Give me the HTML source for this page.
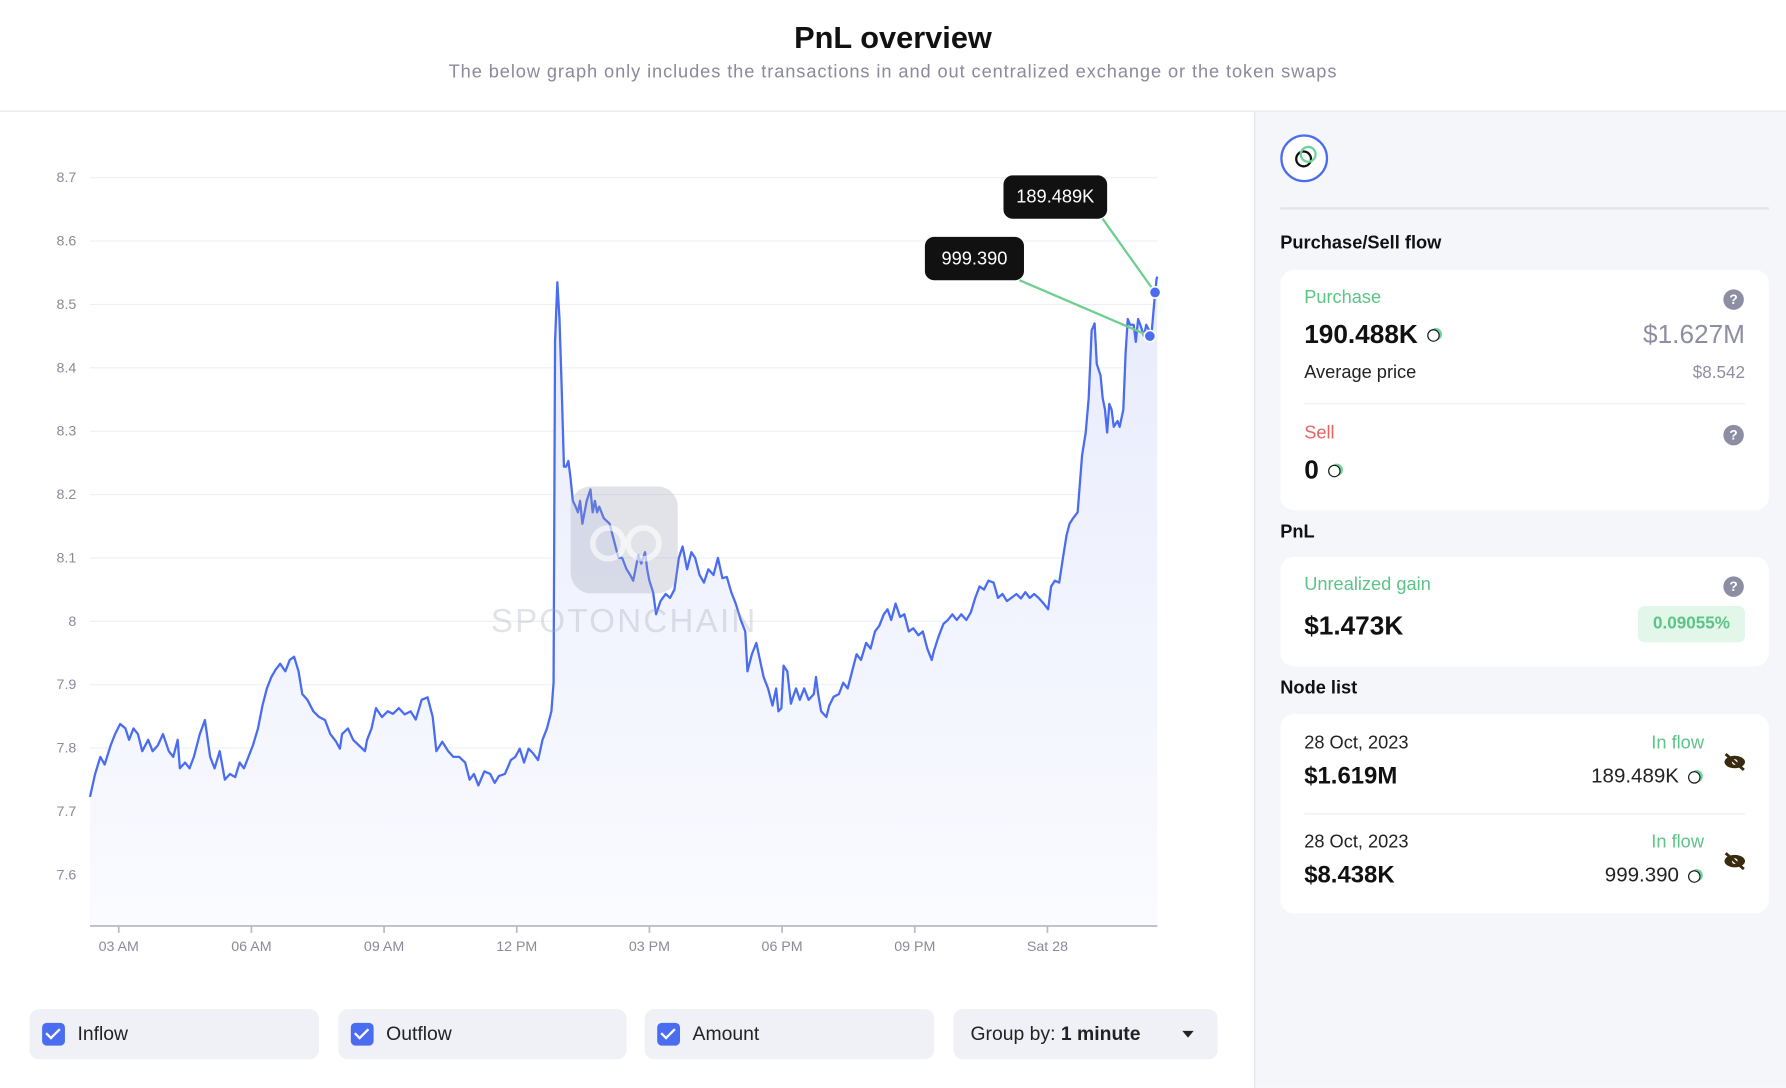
<!DOCTYPE html>
<html><head><meta charset="utf-8">
<style>
html,body{margin:0;padding:0;background:#fff;overflow:hidden;}
body{width:1786px;height:1088px;font-family:"Liberation Sans",sans-serif;}
#wrap{position:absolute;left:0;top:0;width:1568px;height:955px;transform:scale(1.139031);transform-origin:0 0;}
.abs{position:absolute;}
.title{left:0;width:1568px;text-align:center;}
.panel{left:1101px;top:98px;width:467px;height:857px;background:#f5f6fa;border-left:1px solid #e3e4ea;}
.card{position:absolute;left:22px;width:429px;background:#fff;border-radius:12px;}
.sec{position:absolute;left:22px;font-weight:bold;font-size:16px;color:#111;}
.q{position:absolute;width:18px;height:18px;border-radius:50%;background:#8d8ea3;color:#fff;font-size:12px;font-weight:bold;text-align:center;line-height:18px;}
.ctl{position:absolute;top:886px;height:44px;background:#f0f1f6;border-radius:8px;font-size:17px;color:#222;}
.cb{position:absolute;left:11px;top:12px;width:20px;height:20px;border-radius:4px;background:#4a6cf0;}
.cb::after{content:"";position:absolute;left:6px;top:2px;width:5px;height:10px;border:solid #fff;border-width:0 2px 2px 0;transform:rotate(45deg);}
.ctl span.l{position:absolute;left:42px;top:12px;}
.tok{display:inline-block;width:9px;height:9px;border:1.5px solid #111;border-radius:50%;box-shadow:2px -1px 0 0 #6fd49a;vertical-align:middle;margin-left:8px;}
</style></head>
<body>
<div id="wrap">
  <div class="abs title" style="top:18px;font-size:27px;font-weight:bold;color:#111;">PnL overview</div>
  <div class="abs title" style="top:55px;font-size:16px;letter-spacing:0.8px;color:#8a8a99;">The below graph only includes the transactions in and out centralized exchange or the token swaps</div>
  <div class="abs" style="left:0;top:97px;width:1568px;height:1px;background:#e3e4ea;"></div>

  <svg id="chart" class="abs" style="left:0;top:98px;" width="1100" height="760">
    <defs><linearGradient id="ag" x1="0" y1="0" x2="0" y2="1"><stop offset="0" stop-color="#e8ebfc"/><stop offset="1" stop-color="#fafbff"/></linearGradient></defs>
  </svg>

  <div class="abs" style="left:501px;top:427px;width:94px;height:94px;border-radius:18px;background:rgba(150,155,175,0.28);">
    <div class="abs" style="left:17px;top:34px;width:22px;height:22px;border:5px solid rgba(255,255,255,0.6);border-radius:50%;"></div>
    <div class="abs" style="left:48px;top:34px;width:22px;height:22px;border:5px solid rgba(255,255,255,0.6);border-radius:50%;"></div>
  </div>
  <div class="abs" style="left:418px;top:530px;width:260px;text-align:center;font-size:29px;letter-spacing:2px;color:rgba(160,163,180,0.3);">SPOTONCHAIN</div>

  <div class="ctl" style="left:26px;width:254px;"><div class="cb"></div><span class="l">Inflow</span></div>
  <div class="ctl" style="left:297px;width:253px;"><div class="cb"></div><span class="l">Outflow</span></div>
  <div class="ctl" style="left:566px;width:254px;"><div class="cb"></div><span class="l">Amount</span></div>
  <div class="ctl" style="left:837px;width:232px;"><span class="abs" style="left:15px;top:12px;">Group by: <b>1 minute</b></span>
    <div class="abs" style="left:201px;top:19px;width:0;height:0;border-left:5px solid transparent;border-right:5px solid transparent;border-top:6px solid #222;"></div></div>

  <div class="abs panel">
    <div class="abs" style="left:22px;top:20px;width:38px;height:38px;border:2.5px solid #4a6cf0;border-radius:50%;background:#fff;">
      <div class="abs" style="left:11px;top:12px;width:11px;height:11px;border:2px solid #111;border-radius:50%;"></div>
      <div class="abs" style="left:15px;top:8px;width:11px;height:11px;border:2px solid #6fd49a;border-radius:50%;"></div>
    </div>
    <div class="abs" style="left:22px;top:84px;width:429px;height:2px;background:#e3e4ea;"></div>
    <div class="sec" style="top:107px;">Purchase/Sell flow</div>
    <div class="card" style="top:139px;height:211px;">
      <div class="abs" style="left:21px;top:16px;font-size:16px;color:#5cc487;">Purchase</div>
      <div class="q" style="left:389px;top:17px;">?</div>
      <div class="abs" style="left:21px;top:43px;font-size:23px;font-weight:bold;color:#111;">190.488K<span class="tok"></span></div>
      <div class="abs" style="right:21px;top:43px;font-size:23px;color:#8d8ea3;">$1.627M</div>
      <div class="abs" style="left:21px;top:82px;font-size:16px;color:#222;">Average price</div>
      <div class="abs" style="right:21px;top:82px;font-size:15px;color:#8d8ea3;">$8.542</div>
      <div class="abs" style="left:21px;top:117px;width:387px;height:1px;background:#eeeef3;"></div>
      <div class="abs" style="left:21px;top:135px;font-size:16px;color:#e56565;">Sell</div>
      <div class="q" style="left:389px;top:136px;">?</div>
      <div class="abs" style="left:21px;top:162px;font-size:23px;font-weight:bold;color:#111;">0<span class="tok"></span></div>
    </div>
    <div class="sec" style="top:361px;">PnL</div>
    <div class="card" style="top:391px;height:96px;">
      <div class="abs" style="left:21px;top:16px;font-size:16px;color:#5cc487;">Unrealized gain</div>
      <div class="q" style="left:389px;top:17px;">?</div>
      <div class="abs" style="left:21px;top:47px;font-size:23px;font-weight:bold;color:#111;">$1.473K</div>
      <div class="abs" style="left:314px;top:43px;width:94px;height:32px;border-radius:6px;background:#e3f6ea;color:#5cc487;font-weight:bold;font-size:15px;text-align:center;line-height:32px;">0.09055%</div>
    </div>
    <div class="sec" style="top:498px;">Node list</div>
    <div class="card" style="top:529px;height:175px;">
      <div class="abs" style="left:21px;top:17px;font-size:16px;color:#222;">28 Oct, 2023</div>
      <div class="abs" style="right:57px;top:17px;font-size:16px;color:#5cc487;">In flow</div>
      <div class="abs" style="left:21px;top:43px;font-size:21px;font-weight:bold;color:#111;">$1.619M</div>
      <div class="abs" style="right:60px;top:44px;font-size:18px;color:#222;">189.489K<span class="tok"></span></div>
      <svg class="abs" style="left:388px;top:33px;" width="22" height="18" viewBox="0 0 22 18"><ellipse cx="11" cy="9" rx="9" ry="5.5" fill="#3a2a10"/><circle cx="11" cy="9" r="2.5" fill="#fff"/><line x1="3" y1="2" x2="19" y2="16" stroke="#3a2a10" stroke-width="2.5"/></svg>
      <div class="abs" style="left:21px;top:87px;width:387px;height:1px;background:#eeeef3;"></div>
      <div class="abs" style="left:21px;top:104px;font-size:16px;color:#222;">28 Oct, 2023</div>
      <div class="abs" style="right:57px;top:104px;font-size:16px;color:#5cc487;">In flow</div>
      <div class="abs" style="left:21px;top:130px;font-size:21px;font-weight:bold;color:#111;">$8.438K</div>
      <div class="abs" style="right:60px;top:131px;font-size:18px;color:#222;">999.390<span class="tok"></span></div>
      <svg class="abs" style="left:388px;top:120px;" width="22" height="18" viewBox="0 0 22 18"><ellipse cx="11" cy="9" rx="9" ry="5.5" fill="#3a2a10"/><circle cx="11" cy="9" r="2.5" fill="#fff"/><line x1="3" y1="2" x2="19" y2="16" stroke="#3a2a10" stroke-width="2.5"/></svg>
    </div>
  </div>
</div>
<script>
const yTicks = [7.6, 7.7, 7.8, 7.9, 8, 8.1, 8.2, 8.3, 8.4, 8.5, 8.6, 8.7];
const xTickMinutes = [180, 360, 540, 720, 900, 1080, 1260, 1440];
const xTickLabels = ["03 AM", "06 AM", "09 AM", "12 PM", "03 PM", "06 PM", "09 PM", "Sat 28"];
const times = [141,148,155,161,169,175,182,189,194,200,206,212,220,226,233,240,248,254,260,263,270,276,282,290,297,304,310,317,324,331,338,344,350,356,362,369,375,381,387,393,399,406,412,418,424,429,436,444,452,460,467,475,480,483,491,498,506,514,517,523,529,537,545,552,560,568,576,583,591,599,606,611,619,627,634,642,650,656,662,668,676,684,690,696,704,712,718,724,730,736,742,749,755,761,767,770,772,775,778,781,784,787,790,793,796,800,803,806,809,812,815,820,823,826,829,832,838,846,854,858,863,869,874,878,885,889,894,897,900,905,909,915,922,928,934,940,945,951,957,962,968,974,980,987,993,999,1005,1011,1017,1024,1030,1033,1039,1045,1050,1055,1061,1067,1072,1075,1079,1082,1087,1092,1095,1099,1104,1110,1116,1123,1126,1129,1133,1140,1144,1150,1157,1163,1169,1175,1181,1187,1194,1200,1206,1212,1218,1223,1228,1234,1240,1246,1252,1258,1265,1271,1277,1283,1286,1292,1299,1305,1311,1317,1323,1330,1336,1342,1348,1354,1360,1367,1373,1379,1385,1391,1398,1404,1410,1416,1422,1428,1435,1441,1445,1450,1456,1461,1466,1470,1475,1481,1487,1492,1496,1500,1504,1507,1512,1515,1518,1521,1524,1527,1530,1535,1538,1543,1546,1549,1552,1557,1560,1563,1566,1571,1574,1578,1581,1585,1588,1589];
const prices = [7.723,7.759,7.786,7.774,7.804,7.822,7.838,7.831,7.813,7.831,7.822,7.795,7.813,7.795,7.804,7.822,7.795,7.786,7.813,7.768,7.777,7.768,7.786,7.822,7.844,7.786,7.768,7.795,7.750,7.759,7.754,7.777,7.768,7.786,7.804,7.831,7.867,7.894,7.912,7.924,7.933,7.921,7.939,7.944,7.921,7.885,7.876,7.858,7.849,7.844,7.822,7.810,7.799,7.822,7.831,7.813,7.804,7.795,7.813,7.831,7.863,7.849,7.858,7.854,7.863,7.853,7.858,7.845,7.876,7.880,7.849,7.795,7.810,7.795,7.786,7.786,7.777,7.750,7.759,7.741,7.763,7.759,7.745,7.756,7.759,7.781,7.786,7.799,7.777,7.799,7.792,7.781,7.813,7.831,7.858,7.903,8.441,8.535,8.477,8.370,8.244,8.244,8.253,8.226,8.190,8.181,8.172,8.190,8.154,8.172,8.190,8.208,8.172,8.190,8.172,8.181,8.163,8.154,8.118,8.100,8.100,8.082,8.073,8.064,8.104,8.091,8.109,8.082,8.064,8.046,8.011,8.032,8.043,8.037,8.050,8.100,8.118,8.082,8.109,8.100,8.073,8.061,8.082,8.073,8.100,8.068,8.070,8.046,8.028,8.002,7.984,7.921,7.948,7.966,7.939,7.912,7.894,7.867,7.894,7.858,7.863,7.930,7.921,7.870,7.881,7.894,7.876,7.894,7.876,7.885,7.912,7.885,7.858,7.849,7.867,7.881,7.885,7.903,7.894,7.921,7.948,7.939,7.966,7.957,7.984,7.993,8.011,8.019,8.002,8.028,8.007,8.011,7.984,7.989,7.978,7.984,7.957,7.939,7.953,7.975,7.996,8.002,8.011,8.002,8.011,8.002,8.014,8.037,8.055,8.050,8.064,8.061,8.037,8.043,8.032,8.037,8.043,8.036,8.046,8.037,8.043,8.037,8.028,8.019,8.055,8.064,8.061,8.100,8.136,8.154,8.163,8.172,8.262,8.298,8.352,8.459,8.470,8.406,8.388,8.352,8.334,8.298,8.343,8.334,8.307,8.316,8.307,8.334,8.423,8.477,8.468,8.468,8.441,8.477,8.468,8.450,8.468,8.459,8.450,8.504,8.540,8.544];
const nodeTimes = [1579, 1586];
const nodePrices = [8.450, 8.519];
const nodeLabels = ["999.390", "189.489K"];

const svg = document.getElementById('chart');
const NS = 'http://www.w3.org/2000/svg';
const OFF = 98;
const X0 = 79, X1 = 1016, TMIN = 141, TMAX = 1589;
const Y_TOP = 156 - OFF, Y_BOT = 768 - OFF, V_TOP = 8.7, V_BOT = 7.6;
const AX_Y = 813 - OFF;
function xs(t){ return X0 + (t - TMIN) / (TMAX - TMIN) * (X1 - X0); }
function ys(v){ return Y_BOT + (v - V_BOT) / (V_TOP - V_BOT) * (Y_TOP - Y_BOT); }
function mk(tag, attrs){ const e = document.createElementNS(NS, tag); for (const k in attrs) e.setAttribute(k, attrs[k]); svg.appendChild(e); return e; }

yTicks.forEach(function(v){
  const g = mk('line', {x1: X0, x2: X1, y1: ys(v), y2: ys(v), stroke: '#eeeff4', 'stroke-width': 1});
  
  
  const t = mk('text', {x: 67, y: ys(v) + 4, 'text-anchor': 'end', 'font-size': 12.5, fill: '#8a8a99', 'font-family': 'Liberation Sans, sans-serif'});
  t.textContent = String(v);
  
  
});

let d = '';
times.forEach(function(t, i){ d += (i ? 'L' : 'M') + xs(t).toFixed(1) + ',' + ys(prices[i]).toFixed(1); });
const area = mk('path', {d: d + 'L' + xs(times[times.length-1]).toFixed(1) + ',' + AX_Y + 'L' + xs(times[0]).toFixed(1) + ',' + AX_Y + 'Z', fill: 'url(#ag)'});


const line = mk('path', {d: d, fill: 'none', stroke: '#4a6cf0', 'stroke-width': 2, 'stroke-linejoin': 'round'});



const ax = mk('line', {x1: X0, x2: X1, y1: AX_Y, y2: AX_Y, stroke: '#b8b9c6', 'stroke-width': 1.5});


xTickMinutes.forEach(function(m, i){
  const tk = mk('line', {x1: xs(m), x2: xs(m), y1: AX_Y, y2: AX_Y + 6, stroke: '#b8b9c6', 'stroke-width': 1.5});
  
  
  const t = mk('text', {x: xs(m), y: AX_Y + 22, 'text-anchor': 'middle', 'font-size': 12.5, fill: '#8a8a99', 'font-family': 'Liberation Sans, sans-serif'});
  t.textContent = xTickLabels[i];
  
  
});

const boxes = [{x: 812, y: 208 - OFF, w: 87}, {x: 881, y: 154 - OFF, w: 91}];
nodeTimes.forEach(function(t, i){
  const b = boxes[i];
  const px = xs(t), py = ys(nodePrices[i]);
  const ld = mk('line', {x1: b.x + b.w - 4, y1: b.y + 38, x2: px, y2: py, stroke: '#6fcf8f', 'stroke-width': 2});
  
  
  const c = mk('circle', {cx: px, cy: py, r: 5, fill: '#4a6cf0', stroke: '#fff', 'stroke-width': 1.5});
  
  
  const r = mk('rect', {x: b.x, y: b.y, width: b.w, height: 38, rx: 8, fill: '#111'});
  
  
  const tx = mk('text', {x: b.x + b.w / 2, y: b.y + 24, 'text-anchor': 'middle', 'font-size': 16, fill: '#fff', 'font-family': 'Liberation Sans, sans-serif'});
  tx.textContent = nodeLabels[i];
  
  
});
</script>
</body></html>
